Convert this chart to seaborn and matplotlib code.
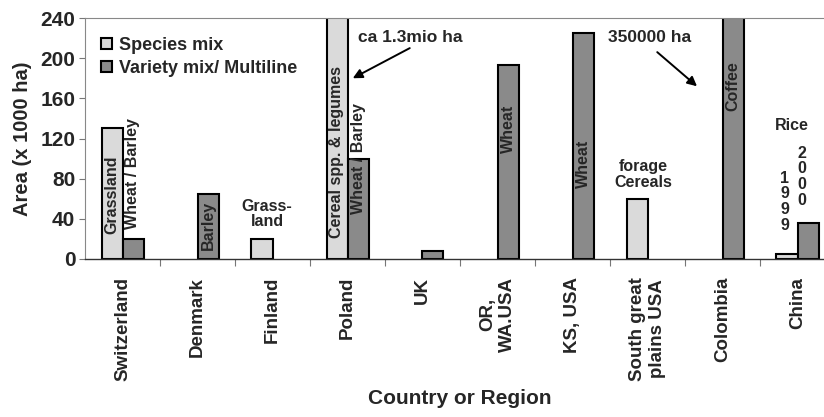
import numpy as np
import pandas as pd
import matplotlib
matplotlib.use('Agg')
import matplotlib.pyplot as plt
import seaborn as sns

# data (area in 1000 ha)
regions = ['Switzerland', 'Denmark', 'Finland', 'Poland', 'UK', 'OR,\nWA.USA',
           'KS, USA', 'South great\nplains USA', 'Colombia', 'China']
species_mix = [130, np.nan, 20, 1300, np.nan, np.nan, np.nan, 60, np.nan, 5]
variety_mix = [20, 65, np.nan, 100, 8, 193, 225, np.nan, 350, 36]
series_names = ['Species mix', 'Variety mix/ Multiline']
yticks = [0, 40, 80, 120, 160, 200, 240]

# crop labels written on / next to the bars: text, x, y, rotation
bar_notes = [
    ('Grassland', -0.14, 64, 90),
    ('Wheat / Barley', 0.14, 85, 90),
    ('Barley', 1.14, 33, 90),
    ('Grass-\nland', 1.93, 45, 0),
    ('Cereal spp. & legumes', 2.86, 107, 90),
    ('Wheat / Barley', 3.14, 100, 90),
    ('Wheat', 5.14, 130, 90),
    ('Wheat', 6.14, 95, 90),
    ('forage\nCereals', 6.94, 84, 0),
    ('Coffee', 8.14, 172, 90),
    ('Rice', 8.92, 133, 0),
    ('1\n9\n9\n9', 8.83, 57, 0),
    ('2\n0\n0\n0', 9.06, 82, 0),
]

# callouts for the clipped bars: text, text pos, arrow tail, arrow head
callouts = [
    ('ca 1.3mio ha', (3.14, 221), (3.83, 210), (3.07, 180)),
    ('350000 ha', (6.47, 221), (7.13, 206), (7.66, 172)),
]

df = pd.DataFrame({
    'region': regions * 2,
    'type': [series_names[0]] * len(regions) + [series_names[1]] * len(regions),
    'area': species_mix + variety_mix,
})

sns.set_style('white')
plt.rcParams['font.family'] = ['Liberation Sans', 'DejaVu Sans']
plt.rcParams['font.weight'] = 'bold'

fig = plt.figure(figsize=(8.24, 4.17), dpi=100)
ax = fig.add_axes([85 / 824, 158 / 417, 750 / 824, 241 / 417])

sns.barplot(data=df, x='region', y='area', hue='type', order=regions,
            hue_order=series_names, palette=['#dadada', '#8a8a8a'],
            width=0.56, edgecolor='black', linewidth=1.5, errorbar=None,
            saturation=1, ax=ax)

ax.set_ylim(0, 240)
ax.set_xlim(-0.5, len(regions) - 0.5)
ax.set_yticks(yticks)
ax.set_yticklabels([str(v) for v in yticks], fontsize=15, fontweight='bold')
ax.tick_params(axis='y', length=4, width=0.8, color='#777777',
               direction='out', left=True, pad=3)
ax.set_xticks(range(len(regions)))
ax.set_xticklabels(regions, rotation=90, fontsize=13.5, fontweight='bold', va='top',
                   ha='center', multialignment='center', linespacing=1.25)
ax.tick_params(axis='x', length=0, pad=13)
ax.set_xticks(np.arange(0.5, len(regions) - 0.5, 1), minor=True)
ax.tick_params(axis='x', which='minor', length=5, width=0.8, color='#777777',
               direction='out', bottom=True)

for side in ['left', 'top', 'right']:
    ax.spines[side].set_color('#888888')
    ax.spines[side].set_linewidth(0.8)
ax.spines['bottom'].set_color('#333333')
ax.spines['bottom'].set_linewidth(1.0)

ax.set_ylabel('Area (x 1000 ha)', fontsize=14.5, fontweight='bold', labelpad=6)
ax.set_xlabel('Country or Region', fontsize=15, fontweight='bold', labelpad=6)

for txt, x, y, rot in bar_notes:
    ax.text(x, y, txt, rotation=rot, ha='center', va='center', fontsize=11.5,
            fontweight='bold', linespacing=1.05)

for txt, pos, tail, head in callouts:
    ax.text(pos[0], pos[1], txt, fontsize=12.5, fontweight='bold',
            va='center', ha='left')
    ax.annotate('', xy=head, xytext=tail,
                arrowprops=dict(arrowstyle='-|>', color='black', lw=1.4,
                                mutation_scale=14, shrinkA=0, shrinkB=0))

leg = ax.legend(loc='upper left', bbox_to_anchor=(0.0, 0.99), frameon=False,
                fontsize=13, handlelength=0.6, handleheight=0.6,
                handletextpad=0.4, labelspacing=0.35)
for t in leg.get_texts():
    t.set_fontweight('bold')

fig.savefig('out.png', dpi=100)
